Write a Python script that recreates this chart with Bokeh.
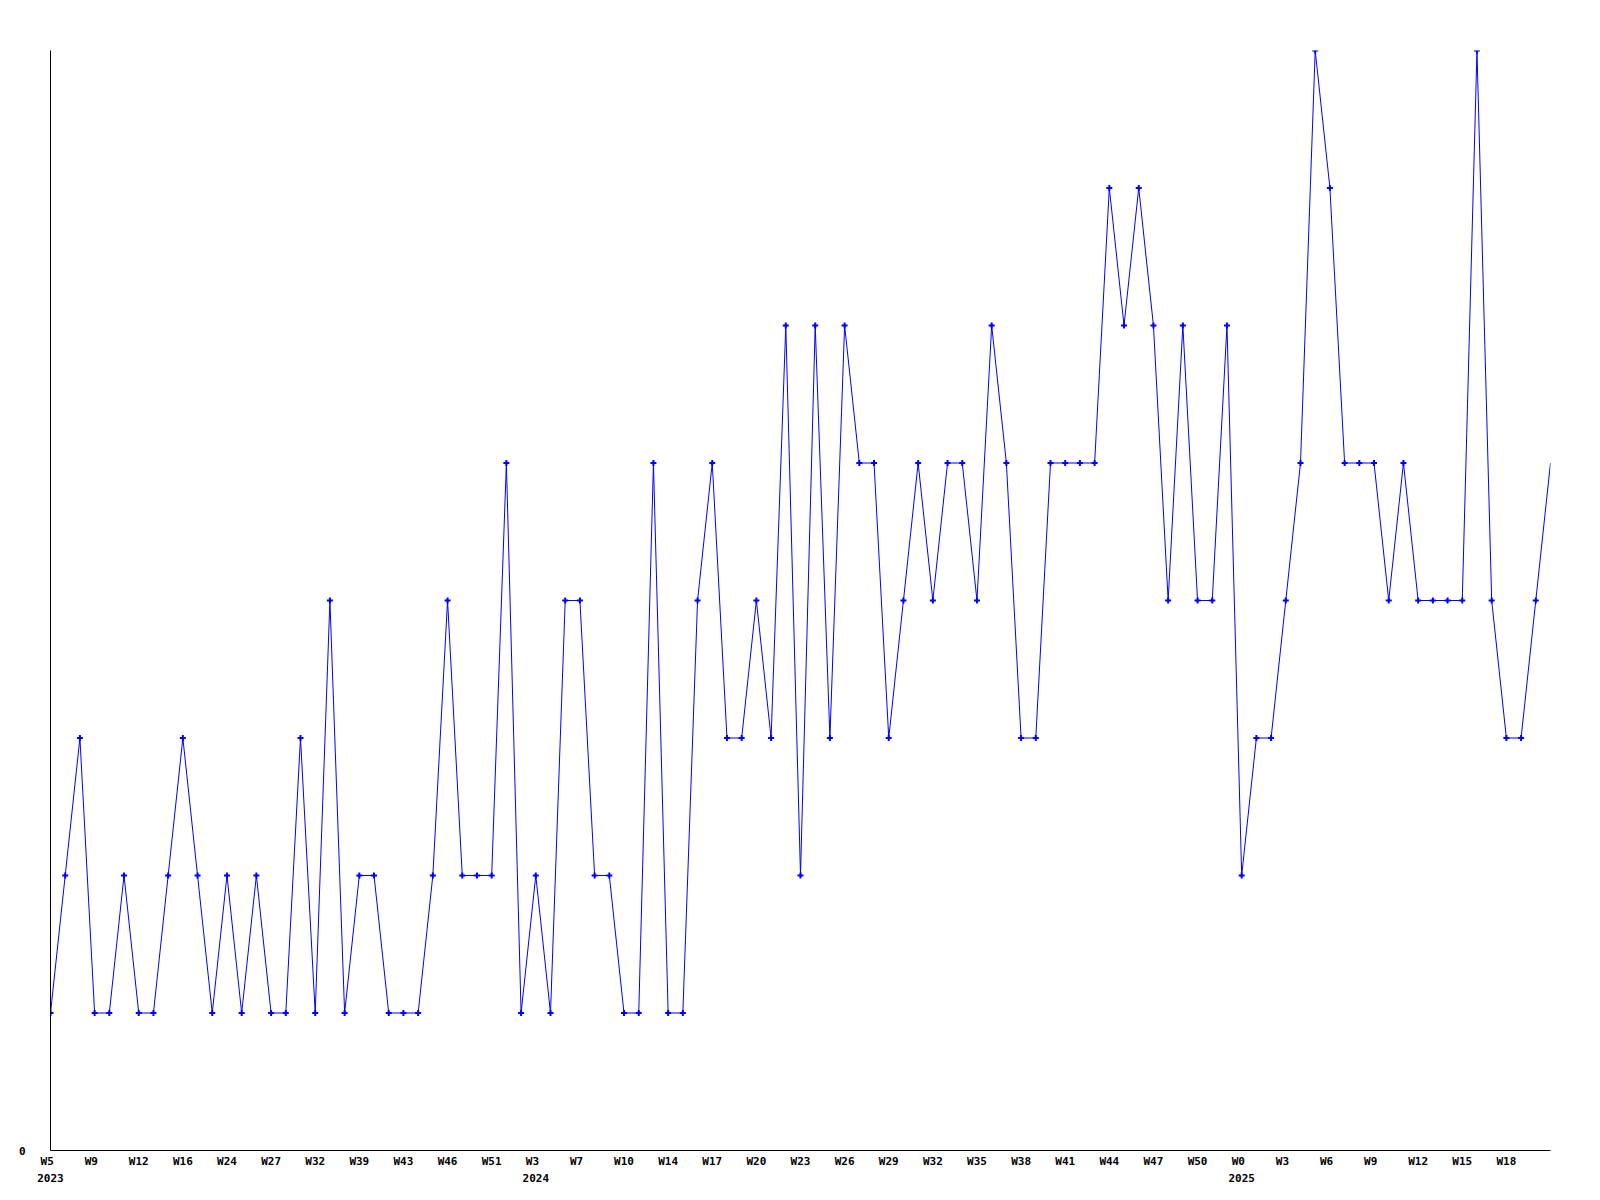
from bokeh.plotting import figure
from bokeh.models import FixedTicker, Range1d
from bokeh.embed import file_html
from bokeh.resources import INLINE

# weekly counts (one per week point)
values = [1, 2, 3, 1, 1, 2, 1, 1, 2, 3,
          2, 1, 2, 1, 2, 1, 1, 3, 1, 4,
          1, 2, 2, 1, 1, 1, 2, 4, 2, 2,
          2, 5, 1, 2, 1, 4, 4, 2, 2, 1,
          1, 5, 1, 1, 4, 5, 3, 3, 4, 3,
          6, 2, 6, 3, 6, 5, 5, 3, 4, 5,
          4, 5, 5, 4, 6, 5, 3, 3, 5, 5,
          5, 5, 7, 6, 7, 6, 4, 6, 4, 4,
          6, 2, 3, 3, 4, 5, 8, 7, 5, 5,
          5, 4, 5, 4, 4, 4, 4, 8, 4, 3,
          3, 4, 5]

# labelled weeks (every third point)
tick_labels = ["W5", "W9", "W12", "W16", "W24", "W27", "W32", "W39", "W43", "W46",
               "W51", "W3", "W7", "W10", "W14", "W17", "W20", "W23", "W26", "W29",
               "W32", "W35", "W38", "W41", "W44", "W47", "W50", "W0", "W3", "W6",
               "W9", "W12", "W15", "W18"]
tick_years = {0: "2023", 11: "2024", 27: "2025"}
tick_step = 3

x = list(range(len(values)))
y_max = 8

p = figure(width=1592, height=1192, output_backend="svg", toolbar_location=None,
           x_range=Range1d(0, len(values) - 1), y_range=Range1d(0, y_max),
           min_border_left=50, min_border_right=42, min_border_top=50, min_border_bottom=42)
p.background_fill_color = "white"
p.border_fill_color = "white"
p.outline_line_color = None
p.xgrid.visible = False
p.ygrid.visible = False

p.line(x, values, line_color="#0000ff", line_width=1)
p.scatter(x[:-1], values[:-1], marker="cross", size=6, line_width=2, line_color="#0000ff")

ticks = [i * tick_step for i in range(len(tick_labels))]
overrides = {}
for k, (t, lab) in enumerate(zip(ticks, tick_labels)):
    lab_p = lab + "\u00a0" * (3 - len(lab))
    if k in tick_years:
        lab_p = lab_p + "\n" + tick_years[k]
    overrides[t] = lab_p

for ax in (p.xaxis, p.yaxis):
    ax.axis_line_color = "black"
    ax.axis_line_width = 1
    ax.major_tick_in = 0
    ax.major_tick_out = 0
    ax.minor_tick_in = 0
    ax.minor_tick_out = 0
    ax.major_label_text_font = "DejaVu Sans Mono"
    ax.major_label_text_font_style = "bold"
    ax.major_label_text_font_size = "11px"
    ax.major_label_text_color = "black"

p.xaxis.ticker = FixedTicker(ticks=ticks)
p.xaxis.major_label_overrides = overrides
p.xaxis.major_label_standoff = 4
p.xaxis.major_label_text_line_height = 1.36

p.yaxis.ticker = FixedTicker(ticks=[0])
p.yaxis.major_label_standoff = 25

open("out.html", "w").write(file_html(p, INLINE))
